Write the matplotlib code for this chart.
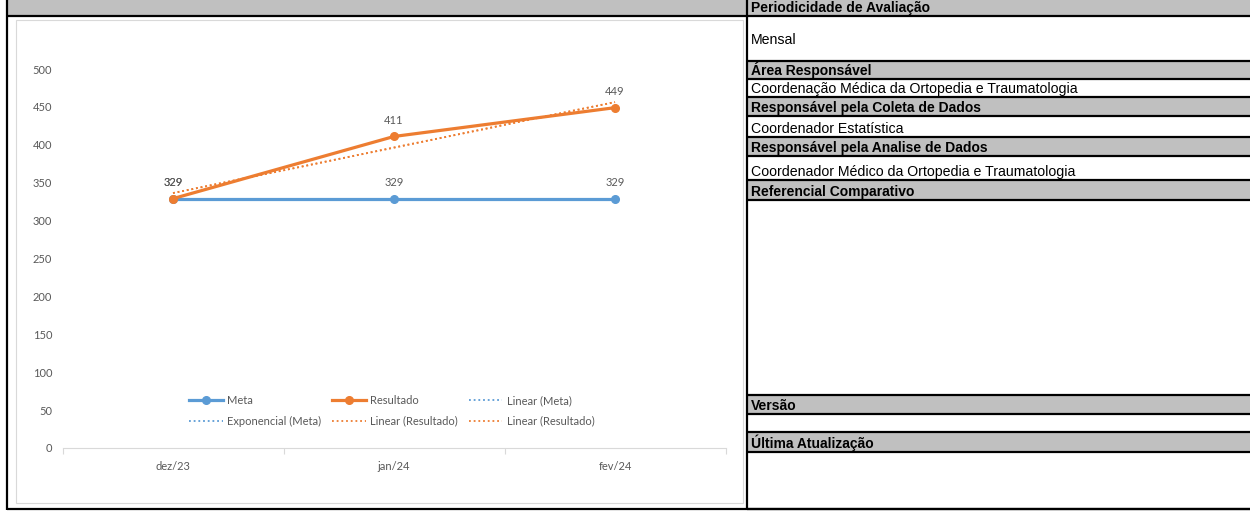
import numpy as np
import matplotlib
matplotlib.use("Agg")
import matplotlib.pyplot as plt
from matplotlib.lines import Line2D
from matplotlib.patches import Rectangle

# data
categories = ["dez/23", "jan/24", "fev/24"]
meta = [329, 329, 329]
resultado = [329, 411, 449]
y_ticks = [0, 50, 100, 150, 200, 250, 300, 350, 400, 450, 500]

# right-hand info table: (top px, bottom px, is_header, text)
table_rows = [
    (0, 16, True, "Periodicidade de Avaliação"),
    (16, 61, False, "Mensal"),
    (61, 79, True, "Área Responsável"),
    (79, 97, False, "Coordenação Médica da Ortopedia e Traumatologia"),
    (97, 116, True, "Responsável pela Coleta de Dados"),
    (116, 137, False, "Coordenador Estatística"),
    (137, 156, True, "Responsável pela Analise de Dados"),
    (156, 180, False, "Coordenador Médico da Ortopedia e Traumatologia"),
    (180, 200, True, "Referencial Comparativo"),
    (200, 395, False, ""),
    (395, 414, True, "Versão"),
    (414, 432, False, ""),
    (432, 452, True, "Última Atualização"),
    (452, 509, False, ""),
]

W, H = 1250, 511
BLUE = "#5B9BD5"
ORANGE = "#ED7D31"
GRAY_TXT = "#595959"
HDR = "#C0C0C0"
CHART_FONT = "Lato"
TABLE_FONT = "Liberation Sans"
FS = 8.0


def fx(x):
    return x / W


def fy(y):
    return 1 - y / H


def hline(fig, y, x0, x1, lw=1.6, color="black"):
    fig.add_artist(Line2D([fx(x0), fx(x1)], [fy(y), fy(y)], transform=fig.transFigure,
                          color=color, lw=lw, solid_capstyle="butt"))


def vline(fig, x, y0, y1, lw=1.6, color="black"):
    fig.add_artist(Line2D([fx(x), fx(x)], [fy(y0), fy(y1)], transform=fig.transFigure,
                          color=color, lw=lw, solid_capstyle="butt"))


fig = plt.figure(figsize=(W / 100, H / 100), dpi=100)

# left grey header band and chart frame
fig.add_artist(Rectangle((fx(7), fy(16)), fx(747) - fx(7), fy(0) - fy(16),
                         transform=fig.transFigure, facecolor=HDR, edgecolor="none", zorder=-2))
fig.add_artist(Rectangle((fx(16), fy(503)), fx(743) - fx(16), fy(20) - fy(503),
                         transform=fig.transFigure, facecolor="white", edgecolor="#D9D9D9",
                         lw=0.8, zorder=-2))

# right table
for top, bot, is_hdr, text in table_rows:
    if is_hdr:
        fig.add_artist(Rectangle((fx(747), fy(bot)), 1 - fx(747), fy(top) - fy(bot),
                                 transform=fig.transFigure, facecolor=HDR, edgecolor="none",
                                 zorder=-2))
    if text:
        if text == "Mensal":
            fig.text(fx(751), fy((top + bot) / 2 + 1), text, ha="left", va="center",
                     fontsize=10.2, family=TABLE_FONT)
        else:
            fig.text(fx(751), fy(bot - 4), text, ha="left", va="baseline",
                     fontsize=10.0 if is_hdr else 10.2, family=TABLE_FONT,
                     fontweight="bold" if is_hdr else "normal")
    hline(fig, bot, 747, W)
hline(fig, 16, 7, 747)
hline(fig, 509, 7, W)
vline(fig, 7, 0, 510)
vline(fig, 747, 0, 510)

# chart
ax = fig.add_axes([fx(62.5), fy(448), fx(725.5) - fx(62.5), fy(69) - fy(448)])
ax.set_zorder(2)
x = np.arange(len(categories))
xl = x + 1

# trendlines fitted from the series
lin_meta = np.polyval(np.polyfit(xl, meta, 1), xl)
exp_meta = np.exp(np.polyval(np.polyfit(xl, np.log(meta), 1), xl))
lin_res = np.polyval(np.polyfit(xl, resultado, 1), xl)

dot = (0, (1, 1.6))
h_lm, = ax.plot(x, lin_meta, color=BLUE, lw=1.3, ls=dot, label="Linear (Meta)")
h_em, = ax.plot(x, exp_meta, color=BLUE, lw=1.3, ls=dot, label="Exponencial (Meta)")
h_m, = ax.plot(x, meta, color=BLUE, lw=2.3, marker="o", ms=5.5, label="Meta")
h_r, = ax.plot(x, resultado, color=ORANGE, lw=2.3, marker="o", ms=5.5, label="Resultado")
h_lr1, = ax.plot(x, lin_res, color=ORANGE, lw=1.3, ls=dot, label="Linear (Resultado)")
h_lr2, = ax.plot(x, lin_res, color=ORANGE, lw=1.3, ls=dot, label="Linear (Resultado)")

for series in (meta, resultado):
    for xi, v in zip(x, series):
        ax.annotate(f"{v}", (xi, v), xytext=(0, 11.5), textcoords="offset points",
                    ha="center", va="center", fontsize=FS, color=GRAY_TXT, family=CHART_FONT)

ax.set_xlim(-0.5, len(categories) - 0.5)
ax.set_ylim(0, 500)
ax.set_yticks(y_ticks)
ax.set_xticks(x)
ax.set_xticklabels(categories)
ax.set_xticks(np.arange(len(categories) + 1) - 0.5, minor=True)
ax.tick_params(axis="y", length=0, pad=7.5, labelsize=FS, labelcolor=GRAY_TXT)
ax.tick_params(axis="x", which="major", length=0, pad=9, labelsize=FS, labelcolor=GRAY_TXT)
ax.tick_params(axis="x", which="minor", length=4, color="#D9D9D9", width=0.8)
for lab in ax.get_xticklabels() + ax.get_yticklabels():
    lab.set_family(CHART_FONT)
for side in ("top", "right", "left"):
    ax.spines[side].set_visible(False)
ax.spines["bottom"].set_color("#D9D9D9")
ax.spines["bottom"].set_linewidth(0.8)
ax.patch.set_alpha(0)

leg = ax.legend([h_m, h_em, h_r, h_lr1, h_lm, h_lr2],
                ["Meta", "Exponencial (Meta)", "Resultado", "Linear (Resultado)",
                 "Linear (Meta)", "Linear (Resultado)"],
                ncol=3, loc="center", bbox_to_anchor=(fx(392), fy(411)),
                bbox_transform=fig.transFigure, frameon=False,
                prop={"family": CHART_FONT, "size": FS}, handlelength=3.0,
                handletextpad=0.4, columnspacing=1.0, labelspacing=0.85)
for t in leg.get_texts():
    t.set_color(GRAY_TXT)

fig.savefig("out.png", dpi=100)
